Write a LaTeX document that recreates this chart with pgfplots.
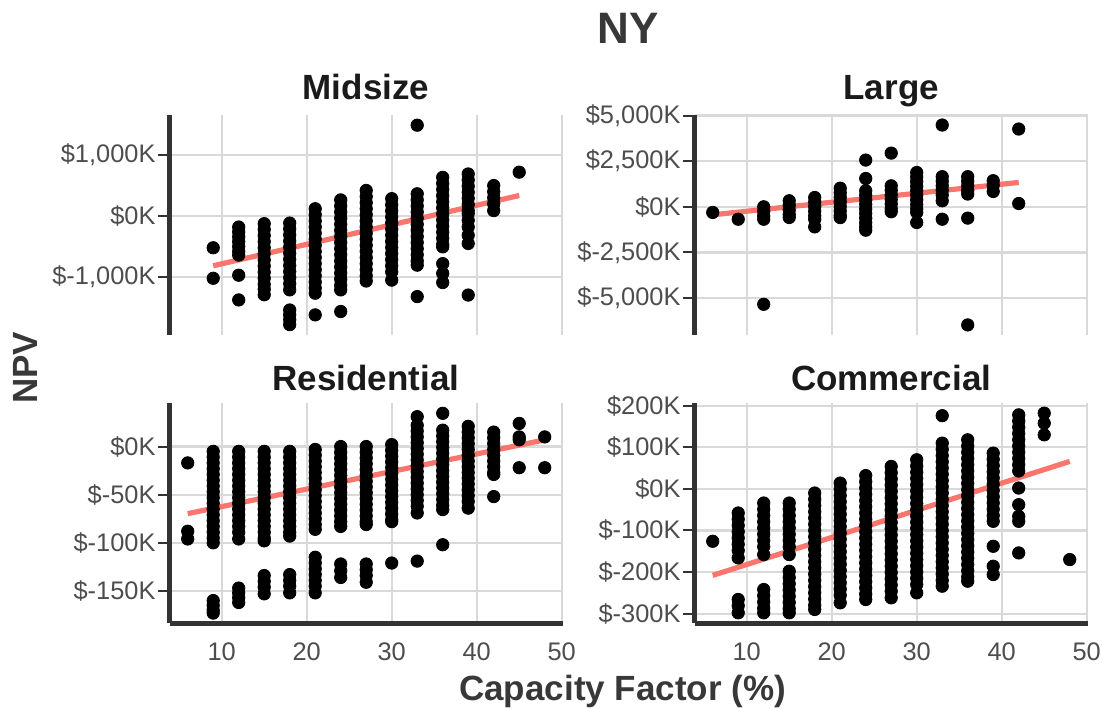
\documentclass[border=0pt]{standalone}
\usepackage{pgfplots}
\pgfplotsset{compat=1.18}
\usepackage{fontspec}
\setmainfont{Liberation Sans}

\definecolor{fitred}{HTML}{F8766D}
\definecolor{axisgray}{HTML}{333333}
\definecolor{ticktext}{HTML}{4D4D4D}
\definecolor{gridgray}{HTML}{D9D9D9}
\definecolor{titlegray}{HTML}{383838}
\definecolor{striptext}{HTML}{1A1A1A}

\pgfplotsset{
  facet/.style={
    scale only axis, width=196.35pt, height=110pt,
    xmin=3.9, xmax=50.1,
    xtick={10,20,30,40,50},
    axis x line*=bottom, axis y line*=left,
    axis line style={line width=2.4pt, color=axisgray},
    grid=major, grid style={gridgray, line width=1.1pt},
    tick align=outside, major tick length=6pt,
    ytick style={line width=1pt, color=axisgray},
    xtick style={draw=none},
    ticklabel style={font=\fontsize{12.7}{14}\selectfont, text=ticktext},
    yticklabel style={inner sep=1pt},
    clip=false,
  },
  toprow/.style={xticklabels={}, x axis line style={draw=none}},
  bottomrow/.style={xticklabels={10,20,30,40,50}},
  pts/.style={only marks, mark=*, mark size=3.1pt, mark options={draw=none, fill=black}},
  fit/.style={fitred, line width=2.6pt, no marks},
}

\begin{document}
\begin{tikzpicture}
\useasboundingbox (0,0) rectangle (551pt,354pt);

% ---------------- Midsize ----------------
\begin{axis}[facet, toprow, at={(84.93pt,186.5pt)}, anchor=south west,
  ymin=-1950, ymax=1657,
  ytick={-1000,0,1000},
  yticklabels={{\$-1,000K},{\$0K},{\$1,000K}}]
\addplot[pts] coordinates {
 (9,-520)(9,-1020)
 (12,-180)(12,-260)(12,-340)(12,-420)(12,-500)(12,-580)(12,-640)(12,-970)(12,-1375)
 (15,-125)(15,-220)(15,-320)(15,-420)(15,-520)(15,-620)(15,-720)(15,-820)(15,-920)(15,-1020)(15,-1120)(15,-1200)(15,-1290)
 (18,-115)(18,-210)(18,-310)(18,-410)(18,-510)(18,-610)(18,-710)(18,-810)(18,-910)(18,-1010)(18,-1110)(18,-1210)(18,-1540)(18,-1620)(18,-1700)(18,-1780)
 (21,120)(21,20)(21,-80)(21,-180)(21,-280)(21,-380)(21,-480)(21,-580)(21,-680)(21,-780)(21,-880)(21,-980)(21,-1080)(21,-1180)(21,-1265)(21,-1620)
 (24,265)(24,165)(24,65)(24,-35)(24,-135)(24,-235)(24,-335)(24,-435)(24,-535)(24,-635)(24,-735)(24,-835)(24,-935)(24,-1035)(24,-1135)(24,-1210)(24,-1565)
 (27,420)(27,320)(27,220)(27,120)(27,20)(27,-80)(27,-180)(27,-280)(27,-380)(27,-480)(27,-580)(27,-680)(27,-780)(27,-880)(27,-980)(27,-1065)
 (30,285)(30,185)(30,85)(30,-15)(30,-115)(30,-215)(30,-315)(30,-415)(30,-515)(30,-615)(30,-715)(30,-815)(30,-915)(30,-1050)
 (33,1490)(33,365)(33,265)(33,165)(33,65)(33,-35)(33,-135)(33,-235)(33,-335)(33,-435)(33,-535)(33,-635)(33,-735)(33,-805)(33,-1320)
 (36,635)(36,535)(36,435)(36,335)(36,235)(36,135)(36,35)(36,-65)(36,-165)(36,-265)(36,-365)(36,-465)(36,-505)(36,-780)(36,-940)(36,-1090)
 (39,690)(39,590)(39,490)(39,390)(39,290)(39,190)(39,90)(39,40)(39,-70)(39,-180)(39,-315)(39,-450)(39,-1295)
 (42,500)(42,400)(42,300)(42,200)(42,90)
 (45,720)
};
\addplot[fit] coordinates {(9,-815)(45,337)};
\end{axis}

% ---------------- Large ----------------
\begin{axis}[facet, toprow, at={(347.43pt,186.5pt)}, anchor=south west,
  ymin=-7022, ymax=5029,
  ytick={-5000,-2500,0,2500,5000},
  yticklabels={{\$-5,000K},{\$-2,500K},{\$0K},{\$2,500K},{\$5,000K}}]
\addplot[pts] coordinates {
 (6,-310)
 (9,-680)
 (12,0)(12,-250)(12,-500)(12,-680)(12,-5340)
 (15,330)(15,80)(15,-170)(15,-420)(15,-585)
 (18,510)(18,260)(18,10)(18,-240)(18,-490)(18,-680)(18,-1100)
 (21,1020)(21,770)(21,520)(21,270)(21,20)(21,-230)(21,-480)(21,-590)
 (24,2560)(24,1550)(24,880)(24,630)(24,380)(24,130)(24,-120)(24,-370)(24,-620)(24,-870)(24,-1100)(24,-1280)
 (27,2940)(27,1150)(27,900)(27,650)(27,400)(27,150)(27,-100)(27,-270)
 (30,1880)(30,1630)(30,1380)(30,1130)(30,880)(30,630)(30,380)(30,130)(30,-120)(30,-310)(30,-860)
 (33,4480)(33,1650)(33,1400)(33,1150)(33,900)(33,650)(33,330)(33,-680)
 (36,1650)(36,1400)(36,1150)(36,900)(36,700)(36,-620)(36,-6470)
 (39,1430)(39,1180)(39,840)
 (42,4260)(42,180)
};
\addplot[fit] coordinates {(6,-440)(42,1335)};
\end{axis}

% ---------------- Residential ----------------
\begin{axis}[facet, bottomrow, at={(84.93pt,42.4pt)}, anchor=south west,
  ymin=-183.5, ymax=45,
  ytick={-150,-100,-50,0},
  yticklabels={{\$-150K},{\$-100K},{\$-50K},{\$0K}}]
\addplot[pts] coordinates {
 (6,-17)(6,-88)(6,-96)
 (9,-5)(9,-11)(9,-17)(9,-23)(9,-29)(9,-35)(9,-41)(9,-47)(9,-53)(9,-59)(9,-65)(9,-71)(9,-77)(9,-83)(9,-89)(9,-95)(9,-100)
 (9,-160)(9,-165)(9,-170)(9,-173)
 (12,-5)(12,-11)(12,-17)(12,-23)(12,-29)(12,-35)(12,-41)(12,-47)(12,-53)(12,-59)(12,-65)(12,-71)(12,-77)(12,-83)(12,-89)(12,-96)
 (12,-147)(12,-152)(12,-157)(12,-162)
 (15,-5)(15,-11)(15,-17)(15,-23)(15,-29)(15,-35)(15,-41)(15,-47)(15,-53)(15,-59)(15,-65)(15,-71)(15,-77)(15,-83)(15,-89)(15,-95)(15,-98)
 (15,-134)(15,-140)(15,-146)(15,-153)
 (18,-5)(18,-11)(18,-17)(18,-23)(18,-29)(18,-35)(18,-41)(18,-47)(18,-53)(18,-59)(18,-65)(18,-71)(18,-77)(18,-83)(18,-89)(18,-93)
 (18,-133)(18,-139)(18,-145)(18,-152)
 (21,-3)(21,-9)(21,-15)(21,-21)(21,-27)(21,-33)(21,-39)(21,-45)(21,-51)(21,-57)(21,-63)(21,-69)(21,-75)(21,-81)(21,-86)
 (21,-115)(21,-121)(21,-127)(21,-133)(21,-139)(21,-145)(21,-152)
 (24,0)(24,-6)(24,-12)(24,-18)(24,-24)(24,-30)(24,-36)(24,-42)(24,-48)(24,-54)(24,-60)(24,-66)(24,-72)(24,-78)(24,-83)
 (24,-122)(24,-129)(24,-136)
 (27,0)(27,-6)(27,-12)(27,-18)(27,-24)(27,-30)(27,-36)(27,-42)(27,-48)(27,-54)(27,-60)(27,-66)(27,-72)(27,-78)(27,-81)
 (27,-122)(27,-128)(27,-134)(27,-141)
 (30,2)(30,-4)(30,-10)(30,-16)(30,-22)(30,-28)(30,-34)(30,-40)(30,-46)(30,-52)(30,-58)(30,-64)(30,-70)(30,-76)(30,-78)
 (30,-121)
 (33,31)(33,22)(33,16)(33,10)(33,4)(33,-2)(33,-8)(33,-14)(33,-20)(33,-26)(33,-32)(33,-38)(33,-44)(33,-50)(33,-56)(33,-62)(33,-69)
 (33,-119)
 (36,34.5)(36,17)(36,11)(36,5)(36,-1)(36,-7)(36,-13)(36,-19)(36,-25)(36,-31)(36,-37)(36,-43)(36,-49)(36,-55)(36,-61)(36,-65.5)
 (36,-102)
 (39,21)(39,15)(39,9)(39,3)(39,-3)(39,-9)(39,-15)(39,-21)(39,-27)(39,-33)(39,-39)(39,-45)(39,-51)(39,-57)(39,-64)
 (42,15)(42,9)(42,3)(42,-3)(42,-9)(42,-15)(42,-21)(42,-27)(42,-29)(42,-52)
 (45,24)(45,10)(45,7)(45,-22)
 (48,10)(48,-22)
};
\addplot[fit] coordinates {(6,-69.7)(48,6.9)};
\end{axis}

% ---------------- Commercial ----------------
\begin{axis}[facet, bottomrow, at={(347.43pt,42.4pt)}, anchor=south west,
  ymin=-323, ymax=206,
  ytick={-300,-200,-100,0,100,200},
  yticklabels={{\$-300K},{\$-200K},{\$-100K},{\$0K},{\$100K},{\$200K}}]
\addplot[pts] coordinates {
 (6,-126)
 (9,-58)(9,-73)(9,-88)(9,-103)(9,-118)(9,-133)(9,-148)(9,-166)(9,-266)(9,-281)(9,-298)
 (12,-34)(12,-49)(12,-64)(12,-79)(12,-94)(12,-109)(12,-124)(12,-139)(12,-158)(12,-242)(12,-257)(12,-272)(12,-287)(12,-298)
 (15,-34)(15,-49)(15,-64)(15,-79)(15,-94)(15,-109)(15,-124)(15,-139)(15,-158)
 (15,-198)(15,-213)(15,-228)(15,-243)(15,-258)(15,-273)(15,-288)(15,-298)
 (18,-10)(18,-25)(18,-40)(18,-55)(18,-70)(18,-85)(18,-100)(18,-115)(18,-130)(18,-145)(18,-160)(18,-175)(18,-190)(18,-205)(18,-220)(18,-235)(18,-250)(18,-265)(18,-280)(18,-290)
 (21,14)(21,-1)(21,-16)(21,-31)(21,-46)(21,-61)(21,-76)(21,-91)(21,-106)(21,-121)(21,-136)(21,-151)(21,-166)(21,-181)(21,-196)(21,-211)(21,-226)(21,-241)(21,-256)(21,-274)
 (24,32)(24,17)(24,2)(24,-13)(24,-28)(24,-43)(24,-58)(24,-73)(24,-88)(24,-103)(24,-118)(24,-133)(24,-148)(24,-163)(24,-178)(24,-193)(24,-208)(24,-223)(24,-238)(24,-253)(24,-266)
 (27,54)(27,39)(27,24)(27,9)(27,-6)(27,-21)(27,-36)(27,-51)(27,-66)(27,-81)(27,-96)(27,-111)(27,-126)(27,-141)(27,-156)(27,-171)(27,-186)(27,-201)(27,-216)(27,-231)(27,-246)(27,-262)
 (30,70)(30,55)(30,40)(30,25)(30,10)(30,-5)(30,-20)(30,-35)(30,-50)(30,-65)(30,-80)(30,-95)(30,-110)(30,-125)(30,-140)(30,-155)(30,-170)(30,-185)(30,-200)(30,-215)(30,-230)(30,-250)
 (33,176)(33,110)(33,95)(33,80)(33,65)(33,50)(33,35)(33,20)(33,5)(33,-10)(33,-25)(33,-40)(33,-55)(33,-70)(33,-85)(33,-100)(33,-115)(33,-130)(33,-145)(33,-160)(33,-175)(33,-190)(33,-205)(33,-220)(33,-234)
 (36,118)(36,103)(36,88)(36,73)(36,58)(36,43)(36,28)(36,13)(36,-2)(36,-17)(36,-32)(36,-47)(36,-62)(36,-77)(36,-92)(36,-107)(36,-122)(36,-137)(36,-152)(36,-167)(36,-182)(36,-197)(36,-212)(36,-222)
 (39,86)(39,71)(39,56)(39,41)(39,26)(39,11)(39,-4)(39,-19)(39,-34)(39,-49)(39,-64)(39,-78)(39,-138)(39,-186)(39,-206)
 (42,178)(42,163)(42,148)(42,133)(42,118)(42,103)(42,88)(42,73)(42,58)(42,43)(42,2)(42,-38)(42,-66)(42,-78)(42,-154)
 (45,182)(45,158)(45,130)
 (48,-170)
};
\addplot[fit] coordinates {(6,-208)(48,66)};
\end{axis}

% ---------------- titles ----------------
\node[anchor=base, font=\bfseries\fontsize{22}{26}\selectfont, text=titlegray] at (314.25pt,332.35pt) {NY};
\node[anchor=base, font=\bfseries\fontsize{17.5}{21}\selectfont, text=striptext] at (183pt,304pt) {Midsize};
\node[anchor=base, font=\bfseries\fontsize{17.5}{21}\selectfont, text=striptext] at (445.6pt,304pt) {Large};
\node[anchor=base, font=\bfseries\fontsize{17.5}{21}\selectfont, text=striptext] at (183pt,159pt) {Residential};
\node[anchor=base, font=\bfseries\fontsize{17.5}{21}\selectfont, text=striptext] at (445.6pt,159pt) {Commercial};
\node[anchor=base, rotate=90, font=\bfseries\fontsize{17.5}{21}\selectfont, text=titlegray] at (18.65pt,170pt) {NPV};
\node[anchor=base, font=\bfseries\fontsize{17.5}{21}\selectfont, text=titlegray] at (311.3pt,4pt) {Capacity Factor (\%)};
\end{tikzpicture}
\end{document}
